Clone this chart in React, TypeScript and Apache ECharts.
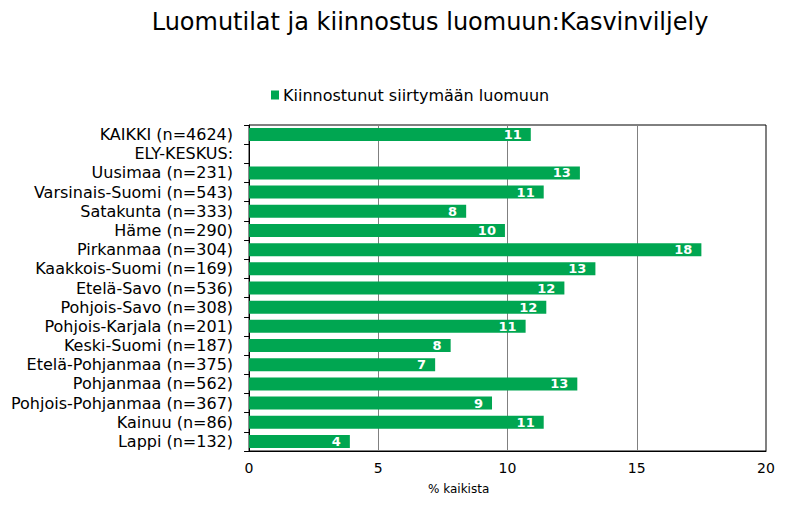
import React, { useEffect, useRef } from "react";
import * as echarts from "echarts";

const categories = [
  "KAIKKI (n=4624)",
  "ELY-KESKUS:",
  "Uusimaa (n=231)",
  "Varsinais-Suomi (n=543)",
  "Satakunta (n=333)",
  "Häme (n=290)",
  "Pirkanmaa (n=304)",
  "Kaakkois-Suomi (n=169)",
  "Etelä-Savo (n=536)",
  "Pohjois-Savo (n=308)",
  "Pohjois-Karjala (n=201)",
  "Keski-Suomi (n=187)",
  "Etelä-Pohjanmaa (n=375)",
  "Pohjanmaa (n=562)",
  "Pohjois-Pohjanmaa (n=367)",
  "Kainuu (n=86)",
  "Lappi (n=132)",
];

const values: (number | null)[] = [
  10.9, null, 12.8, 11.4, 8.4, 9.9, 17.5, 13.4, 12.2, 11.5, 10.7, 7.8, 7.2, 12.7, 9.4, 11.4, 3.9,
];

const seriesName = "Kiinnostunut siirtymään luomuun";
const titleText = "Luomutilat ja kiinnostus luomuun:Kasvinviljely";
const xTicks = [0, 5, 10, 15, 20];

export default function App() {
  const ref = useRef<HTMLDivElement>(null);
  useEffect(() => {
    if (!ref.current) return;
    const chart = echarts.init(ref.current, undefined, { renderer: "svg" });
    chart.setOption({
      animation: false,
      backgroundColor: "#ffffff",
      title: {
        text: titleText,
        left: 422,
        textAlign: "center",
        top: 2,
        padding: 0,
        textStyle: {
          fontFamily: "DejaVu Sans",
          fontSize: 24,
          fontWeight: "normal",
          color: "#000000",
        },
      },
      legend: {
        data: [seriesName],
        top: 79,
        left: 263,
        padding: 0,
        itemWidth: 8,
        itemHeight: 9,
        itemGap: 4,
        icon: "rect",
        textStyle: {
          fontFamily: "DejaVu Sans",
          fontSize: 16,
          color: "#000000",
          padding: [0, 0, 0, -1],
        },
      },
      grid: {
        left: 241,
        right: 22,
        top: 117,
        bottom: 51,
        show: true,
        borderColor: "#000000",
        borderWidth: 1,
        backgroundColor: "transparent",
      },
      xAxis: {
        type: "value",
        min: xTicks[0],
        max: xTicks[xTicks.length - 1],
        interval: 5,
        axisLine: { show: true, lineStyle: { color: "#000000" } },
        axisTick: { show: false },
        axisLabel: {
          fontFamily: "DejaVu Sans",
          fontSize: 14,
          color: "#000000",
          margin: 10,
        },
        splitLine: { show: true, lineStyle: { color: "#808080", width: 1 } },
      },
      yAxis: {
        type: "category",
        data: categories,
        inverse: true,
        axisLine: { show: true, lineStyle: { color: "#000000" } },
        axisTick: { show: true, length: 5, interval: 0, lineStyle: { color: "#000000" } },
        axisLabel: {
          interval: 0,
          fontFamily: "DejaVu Sans",
          fontSize: 16,
          color: "#000000",
          margin: 16,
        },
        splitLine: { show: false },
      },
      graphic: [
        {
          type: "text",
          left: 420,
          top: 475,
          style: {
            text: "% kaikista",
            fontFamily: "DejaVu Sans",
            fontSize: 12,
            fill: "#000000",
          },
        },
      ],
      series: [
        {
          name: seriesName,
          type: "bar",
          data: values,
          barWidth: 13,
          itemStyle: { color: "#00A651" },
          label: {
            show: true,
            position: "insideRight",
            distance: 9,
            color: "#ffffff",
            fontFamily: "DejaVu Sans",
            fontWeight: "bold",
            fontSize: 13,
            formatter: (p: any) => (p.value == null ? "" : String(Math.round(p.value))),
          },
        },
      ],
    });
    return () => chart.dispose();
  }, []);
  return <div ref={ref} style={{ width: 780, height: 494 }} />;
}
